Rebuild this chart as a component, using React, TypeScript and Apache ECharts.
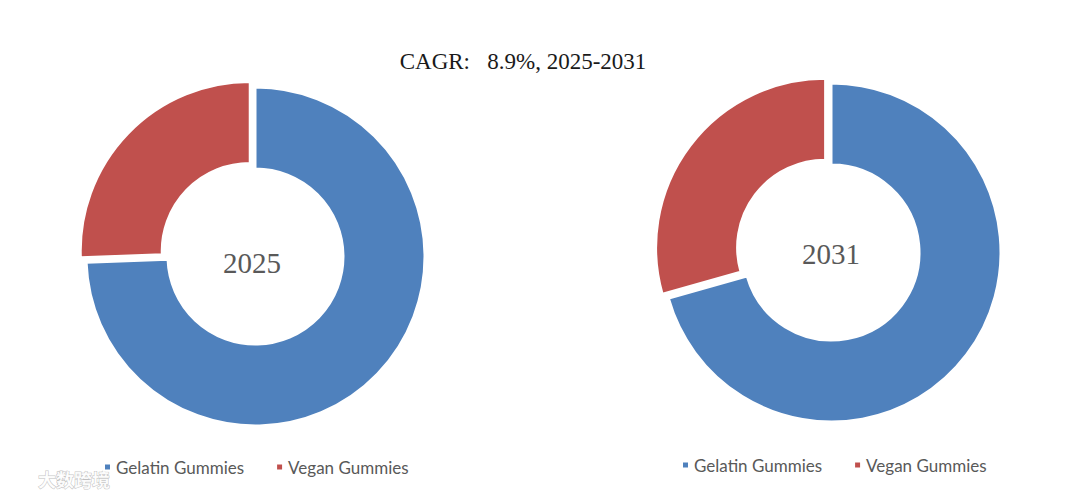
import React, { useEffect, useRef } from "react";
import * as echarts from "echarts";

const categories = ["Gelatin Gummies", "Vegan Gummies"];
const values2025 = [74.4, 25.6];
const values2031 = [70.6, 29.4];
const yearLabels = ["2025", "2031"];
const titleText = "CAGR:   8.9%, 2025-2031";
const colors = ["#4F81BD", "#C0504D"];

function pieSeries(values: number[], center: [number, number]) {
  return {
    type: "pie",
    center,
    radius: [88, 169],
    startAngle: 90,
    clockwise: true,
    selectedMode: "multiple",
    selectedOffset: 8,
    label: { show: false },
    labelLine: { show: false },
    emphasis: { disabled: true },
    itemStyle: { borderColor: "#ffffff", borderWidth: 2 },
    data: categories.map((name, i) => ({
      name,
      value: values[i],
      selected: i === 1,
      itemStyle: { color: colors[i] },
    })),
  };
}

export default function App() {
  const ref = useRef<HTMLDivElement>(null);
  useEffect(() => {
    if (!ref.current) return;
    const chart = echarts.init(ref.current, undefined, { renderer: "svg" });
    const legendCommon = {
      orient: "horizontal",
      icon: "rect",
      itemWidth: 7,
      itemHeight: 7,
      itemGap: 31,
      padding: 0,
      selectedMode: false,
      data: categories,
      textStyle: {
        fontFamily: "Lato, 'Open Sans', sans-serif",
        fontSize: 17,
        color: "#595959",
        lineHeight: 20,
      },
    };
    chart.setOption({
      animation: false,
      backgroundColor: "#ffffff",
      color: colors,
      legend: [
        { ...legendCommon, left: 103, top: 457 },
        { ...legendCommon, left: 681, top: 455 },
      ],
      graphic: [
        {
          type: "text",
          x: 523,
          y: 61,
          style: {
            text: titleText,
            fontFamily: "'Liberation Serif', 'DejaVu Serif', serif",
            fontSize: 23,
            fill: "#1a1a1a",
            textAlign: "center",
            textVerticalAlign: "middle",
          },
        },
        {
          type: "text",
          x: 252,
          y: 263,
          style: {
            text: yearLabels[0],
            fontFamily: "'Liberation Serif', 'DejaVu Serif', serif",
            fontSize: 29,
            fill: "#595959",
            textAlign: "center",
            textVerticalAlign: "middle",
          },
        },
        {
          type: "text",
          x: 831,
          y: 254,
          style: {
            text: yearLabels[1],
            fontFamily: "'Liberation Serif', 'DejaVu Serif', serif",
            fontSize: 29,
            fill: "#595959",
            textAlign: "center",
            textVerticalAlign: "middle",
          },
        },
        {
          type: "text",
          x: 38,
          y: 479,
          style: {
            text: "大数跨境",
            fontFamily: "'Noto Sans CJK SC', sans-serif",
            fontSize: 18,
            fontWeight: "bold",
            fill: "rgba(255,255,255,0.9)",
            stroke: "rgba(150,150,150,0.6)",
            lineWidth: 1,
            textAlign: "left",
            textVerticalAlign: "middle",
          },
        },
      ],
      series: [
        pieSeries(values2025, [255.5, 256.5]),
        pieSeries(values2031, [831.5, 252.5]),
      ],
    });
    return () => chart.dispose();
  }, []);
  return (
    <div
      ref={ref}
      style={{ position: "fixed", left: 0, top: 0, width: 1080, height: 498 }}
    />
  );
}
